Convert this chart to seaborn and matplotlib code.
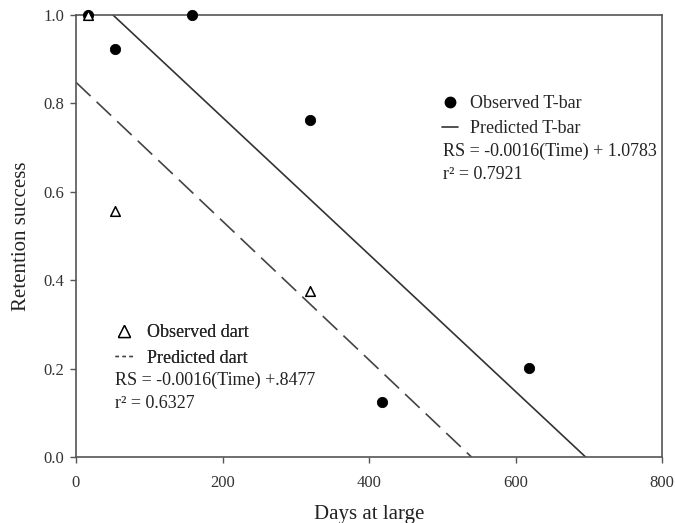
import numpy as np
import pandas as pd
import matplotlib
matplotlib.use("Agg")
import matplotlib.pyplot as plt
from matplotlib.lines import Line2D
import seaborn as sns

# observed retention success
tbar_days = [17, 53, 159, 320, 418, 618]
tbar_rs = [1.0, 0.923, 1.0, 0.762, 0.124, 0.201]
dart_days = [17, 53, 320]
dart_rs = [1.0, 0.557, 0.376]

# fitted lines as drawn
tbar_slope, tbar_intercept = -0.00155, 1.0783
dart_slope, dart_intercept = -0.00157, 0.8477

tbar_eq = "RS = -0.0016(Time) + 1.0783"
tbar_r2 = "r\u00b2 = 0.7921"
dart_eq = "RS = -0.0016(Time) +.8477"
dart_r2 = "r\u00b2 = 0.6327"

sns.set_style("white")
plt.rcParams["font.family"] = ["Liberation Serif", "DejaVu Serif"]
plt.rcParams["axes.edgecolor"] = "#555555"

TXT = 13


def fit_line(slope, intercept):
    # from where the line enters the box (y<=1) down to y=0
    x0 = max(0.0, (1.0 - intercept) / slope)
    x1 = -intercept / slope
    xs = np.array([x0, x1])
    return pd.DataFrame({"days": xs, "rs": intercept + slope * xs})


def main():
    fig, ax = plt.subplots(figsize=(6.75, 5.23), dpi=100)
    fig.subplots_adjust(left=76 / 675, right=662 / 675, top=1 - 15 / 523, bottom=1 - 457 / 523)

    tb_line = fit_line(tbar_slope, tbar_intercept)
    dt_line = fit_line(dart_slope, dart_intercept)
    sns.lineplot(data=tb_line, x="days", y="rs", color="#333333", lw=1.2, ax=ax)
    sns.lineplot(data=dt_line, x="days", y="rs", color="#444444", lw=1.2, ax=ax,
                 dashes=False)
    ax.lines[-1].set_dashes((12, 5))

    tb = pd.DataFrame({"days": tbar_days, "rs": tbar_rs})
    dt = pd.DataFrame({"days": dart_days, "rs": dart_rs})
    sns.scatterplot(data=tb, x="days", y="rs", color="black", s=55, marker="o",
                    edgecolor="black", ax=ax, clip_on=False, zorder=4)
    sns.scatterplot(data=dt, x="days", y="rs", facecolor="white", s=48, marker="^",
                    edgecolor="black", linewidth=1.1, ax=ax, clip_on=False, zorder=5)

    ax.set_xlim(0, 800)
    ax.set_ylim(0, 1.0)
    ax.set_xticks([0, 200, 400, 600, 800])
    ax.set_yticks([0.0, 0.2, 0.4, 0.6, 0.8, 1.0])
    ax.set_yticklabels(["0.0", "0.2", "0.4", "0.6", "0.8", "1.0"])
    ax.tick_params(axis="both", direction="out", length=4.5, width=1, color="#555555",
                   labelsize=12, labelcolor="#333333", bottom=True, left=True)
    ax.tick_params(axis="x", pad=8.5)
    ax.tick_params(axis="y", pad=4)
    for sp in ax.spines.values():
        sp.set_linewidth(1.2)
    ax.set_xlabel("Days at large", fontsize=15, labelpad=10, color="#222222")
    ax.set_ylabel("Retention success", fontsize=15, labelpad=9, color="#222222")

    # T-bar legend block
    h1 = [Line2D([], [], marker="o", ls="none", color="black", markersize=7.5),
          Line2D([], [], color="#333333", lw=1.2)]
    leg1 = ax.legend(h1, ["Observed T-bar", "Predicted T-bar"], loc="upper left",
                     bbox_to_anchor=(0.6246, 0.818), frameon=False, fontsize=TXT,
                     handlelength=0.9, handletextpad=0.67, borderpad=0,
                     labelspacing=0.42, borderaxespad=0)
    ax.add_artist(leg1)
    ax.text(0.626, 0.692, tbar_eq, transform=ax.transAxes, fontsize=TXT,
            va="center", color="#222222")
    ax.text(0.626, 0.64, tbar_r2, transform=ax.transAxes, fontsize=TXT,
            va="center", color="#222222")

    # dart legend block
    h2 = [Line2D([], [], marker="^", ls="none", markerfacecolor="white",
                 markeredgecolor="black", markersize=8),
          Line2D([], [], color="#444444", lw=1.0, dashes=(2.5, 2.5))]
    leg2 = ax.legend(h2, ["Observed dart", "Predicted dart"], loc="upper left",
                     bbox_to_anchor=(0.0666, 0.30), frameon=False, fontsize=TXT,
                     handlelength=1.0, handletextpad=0.78, borderpad=0,
                     labelspacing=0.45, borderaxespad=0)
    ax.add_artist(leg2)
    ax.text(0.066, 0.174, dart_eq, transform=ax.transAxes, fontsize=TXT,
            va="center", color="#222222")
    ax.text(0.066, 0.122, dart_r2, transform=ax.transAxes, fontsize=TXT,
            va="center", color="#222222")

    fig.savefig("out.png", dpi=100)


if __name__ == "__main__":
    main()
